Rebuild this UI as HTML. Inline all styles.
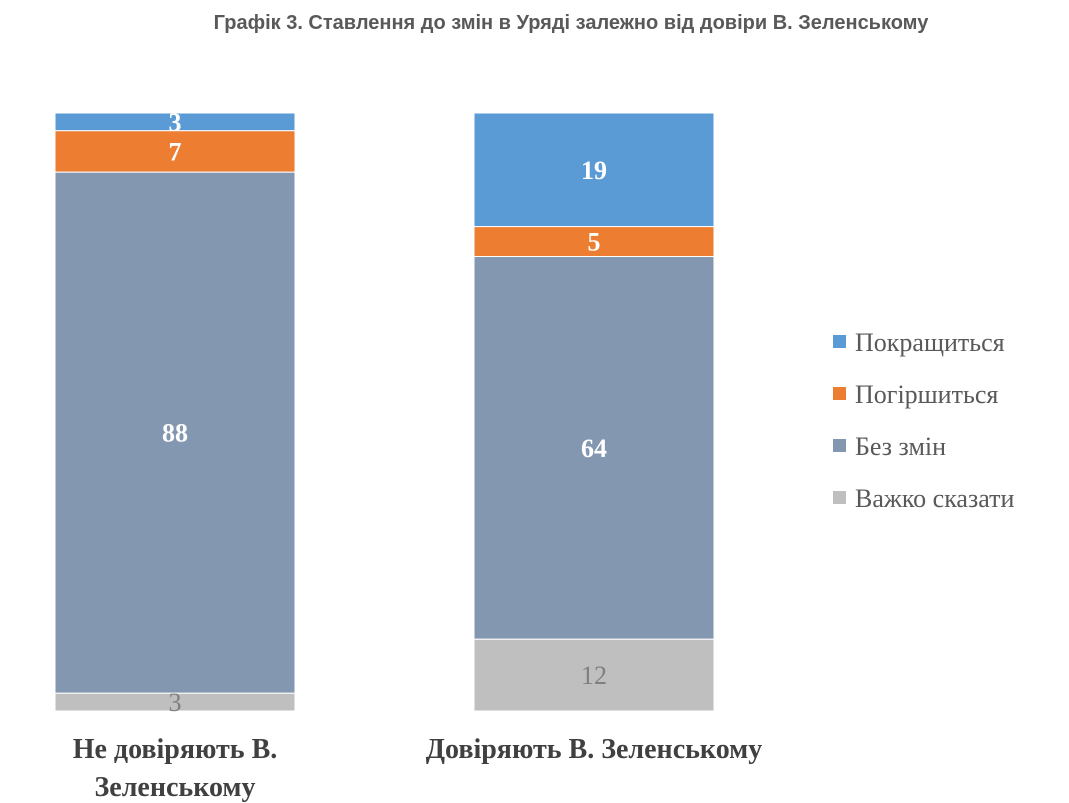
<!DOCTYPE html>
<html><head><meta charset="utf-8"><style>
body{margin:0;background:#fff;width:1069px;height:803px;overflow:hidden}
svg{display:block}
</style></head><body>
<svg id="chart" width="1069" height="803">
<text x="571" y="29" text-anchor="middle" font-family="Liberation Sans, sans-serif" font-weight="bold" font-size="20" fill="#595959">Графік 3. Ставлення до змін в Уряді залежно від довіри В. Зеленському</text>
<g id="bars"></g>
<g id="legend"></g>
</svg>
<script>
const categories = [["Не довіряють В.", "Зеленському"], ["Довіряють В. Зеленському"]];
const seriesNames = ["Покращиться", "Погіршиться", "Без змін", "Важко сказати"];
const improve = [3, 19];
const worsen = [7, 5];
const noChange = [88, 64];
const hardToSay = [3, 12];
const colors = ["#5b9bd5", "#ed7d31", "#8497b0", "#bfbfbf"];
const labelColors = ["#fff", "#fff", "#fff", "#7f7f7f"];
const series = [improve, worsen, noChange, hardToSay];
const NS = "http://www.w3.org/2000/svg";
const top0 = 113, bot = 711, barW = 240;
const barX = i => 55 + i * 419;
const yScale = (v, tot) => (v / tot) * (bot - top0);
const g = document.getElementById("bars");
categories.forEach((cat, i) => {
  const tot = series.reduce((s, a) => s + a[i], 0);
  let y = top0;
  series.forEach((arr, k) => {
    const h = yScale(arr[i], tot);
    const r = document.createElementNS(NS, "rect");
    r.setAttribute("x", barX(i)); r.setAttribute("y", y);
    r.setAttribute("width", barW); r.setAttribute("height", h);
    r.setAttribute("fill", colors[k]);
    r.setAttribute("stroke", "#fff"); r.setAttribute("stroke-width", "1");
    
    
    g.appendChild(r);
    const t = document.createElementNS(NS, "text");
    t.setAttribute("x", barX(i) + barW / 2); t.setAttribute("y", y + h / 2 + 9);
    t.setAttribute("text-anchor", "middle");
    t.setAttribute("font-family", "Liberation Serif, serif");
    t.setAttribute("font-size", "26");
    if (k < 3) t.setAttribute("font-weight", "bold");
    t.setAttribute("fill", labelColors[k]);
    t.textContent = arr[i];
    
    
    g.appendChild(t);
    y += h;
  });
  cat.forEach((line, j) => {
    const t = document.createElementNS(NS, "text");
    t.setAttribute("x", barX(i) + barW / 2); t.setAttribute("y", 758 + j * 38);
    t.setAttribute("text-anchor", "middle");
    t.setAttribute("font-family", "Liberation Serif, serif");
    t.setAttribute("font-size", "28"); t.setAttribute("font-weight", "bold");
    t.setAttribute("fill", "#404040");
    t.textContent = line;
    
    
    g.appendChild(t);
  });
});
const lg = document.getElementById("legend");
seriesNames.forEach((n, k) => {
  const cy = 342 + k * 52;
  const r = document.createElementNS(NS, "rect");
  r.setAttribute("x", 833); r.setAttribute("y", cy - 7);
  r.setAttribute("width", 13); r.setAttribute("height", 13);
  r.setAttribute("fill", colors[k]);
  
  
  lg.appendChild(r);
  const t = document.createElementNS(NS, "text");
  t.setAttribute("x", 855); t.setAttribute("y", cy + 9);
  t.setAttribute("font-family", "Liberation Serif, serif");
  t.setAttribute("font-size", "26"); t.setAttribute("fill", "#595959");
  t.textContent = n;
  
  
  lg.appendChild(t);
});
</script>
</body></html>
